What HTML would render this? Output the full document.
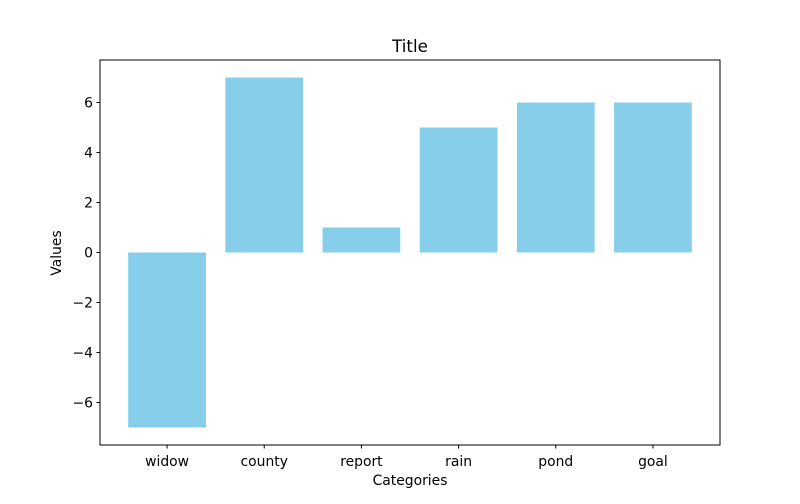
<!DOCTYPE html>
<html><head><meta charset="utf-8"><style>
body{margin:0;background:#fff;font-family:"DejaVu Sans","Liberation Sans",sans-serif;}
</style></head><body>
<svg id="chart" width="800" height="500" xmlns="http://www.w3.org/2000/svg">
<rect width="800" height="500" fill="#fff"/>
<g id="bars"></g>
<g id="xticks"></g>
<g id="yticks"></g>
<rect x="100" y="60" width="620" height="385" fill="none" stroke="#000" stroke-width="1"/>
<text x="410" y="52" font-size="16.7" text-anchor="middle">Title</text>
<text x="410" y="485" font-size="13.9" text-anchor="middle">Categories</text>
<text x="0" y="0" font-size="13.9" text-anchor="middle" transform="translate(61,253) rotate(-90)">Values</text>
</svg>
<script>
const categories = ["widow","county","report","rain","pond","goal"];
const values = [-7,7,1,5,6,6];
const yTicks = [-6,-4,-2,0,2,4,6];
const yTickLabels = ["\u22126","\u22124","\u22122","0","2","4","6"];

const NS="http://www.w3.org/2000/svg";
const L=100,R=720,T=60,B=445;
const vmin=Math.min(0,...values), vmax=Math.max(0,...values);
const span=vmax-vmin, ylo=vmin-span*0.05, yhi=vmax+span*0.05;
const xlo=-0.4-(categories.length-0.2)*0.05, xhi=categories.length-0.6+(categories.length-0.2)*0.05;
const xs=i=>L+(i-xlo)/(xhi-xlo)*(R-L);
const ys=v=>B-(v-ylo)/(yhi-ylo)*(B-T);
const bw=0.8*(R-L)/(xhi-xlo);
const gb=document.getElementById('bars'), gx=document.getElementById('xticks'), gy=document.getElementById('yticks');
categories.forEach((c,i)=>{
  const r=document.createElementNS(NS,'rect');
  const y0=ys(Math.max(0,values[i])), y1=ys(Math.min(0,values[i]));
  r.setAttribute('x',xs(i)-bw/2);r.setAttribute('y',y0);
  r.setAttribute('width',bw);r.setAttribute('height',y1-y0);
  r.setAttribute('fill','#87ceeb');
  
  
  gb.appendChild(r);
  const tk=document.createElementNS(NS,'line');
  tk.setAttribute('x1',xs(i));tk.setAttribute('x2',xs(i));tk.setAttribute('y1',B);tk.setAttribute('y2',B+3.5);tk.setAttribute('stroke','#000');
  
  
  gx.appendChild(tk);
  const t=document.createElementNS(NS,'text');
  t.setAttribute('x',xs(i));t.setAttribute('y',B+21);t.setAttribute('font-size','13.9');t.setAttribute('text-anchor','middle');
  t.textContent=c;
  
  
  gx.appendChild(t);
});
yTicks.forEach((v,i)=>{
  const tk=document.createElementNS(NS,'line');
  tk.setAttribute('x1',L-3.5);tk.setAttribute('x2',L);tk.setAttribute('y1',ys(v));tk.setAttribute('y2',ys(v));tk.setAttribute('stroke','#000');
  
  
  gy.appendChild(tk);
  const t=document.createElementNS(NS,'text');
  t.setAttribute('x',L-7);t.setAttribute('y',ys(v)+5);t.setAttribute('font-size','13.9');t.setAttribute('text-anchor','end');
  t.textContent=yTickLabels[i];
  
  
  gy.appendChild(t);
});
</script>
</body></html>
